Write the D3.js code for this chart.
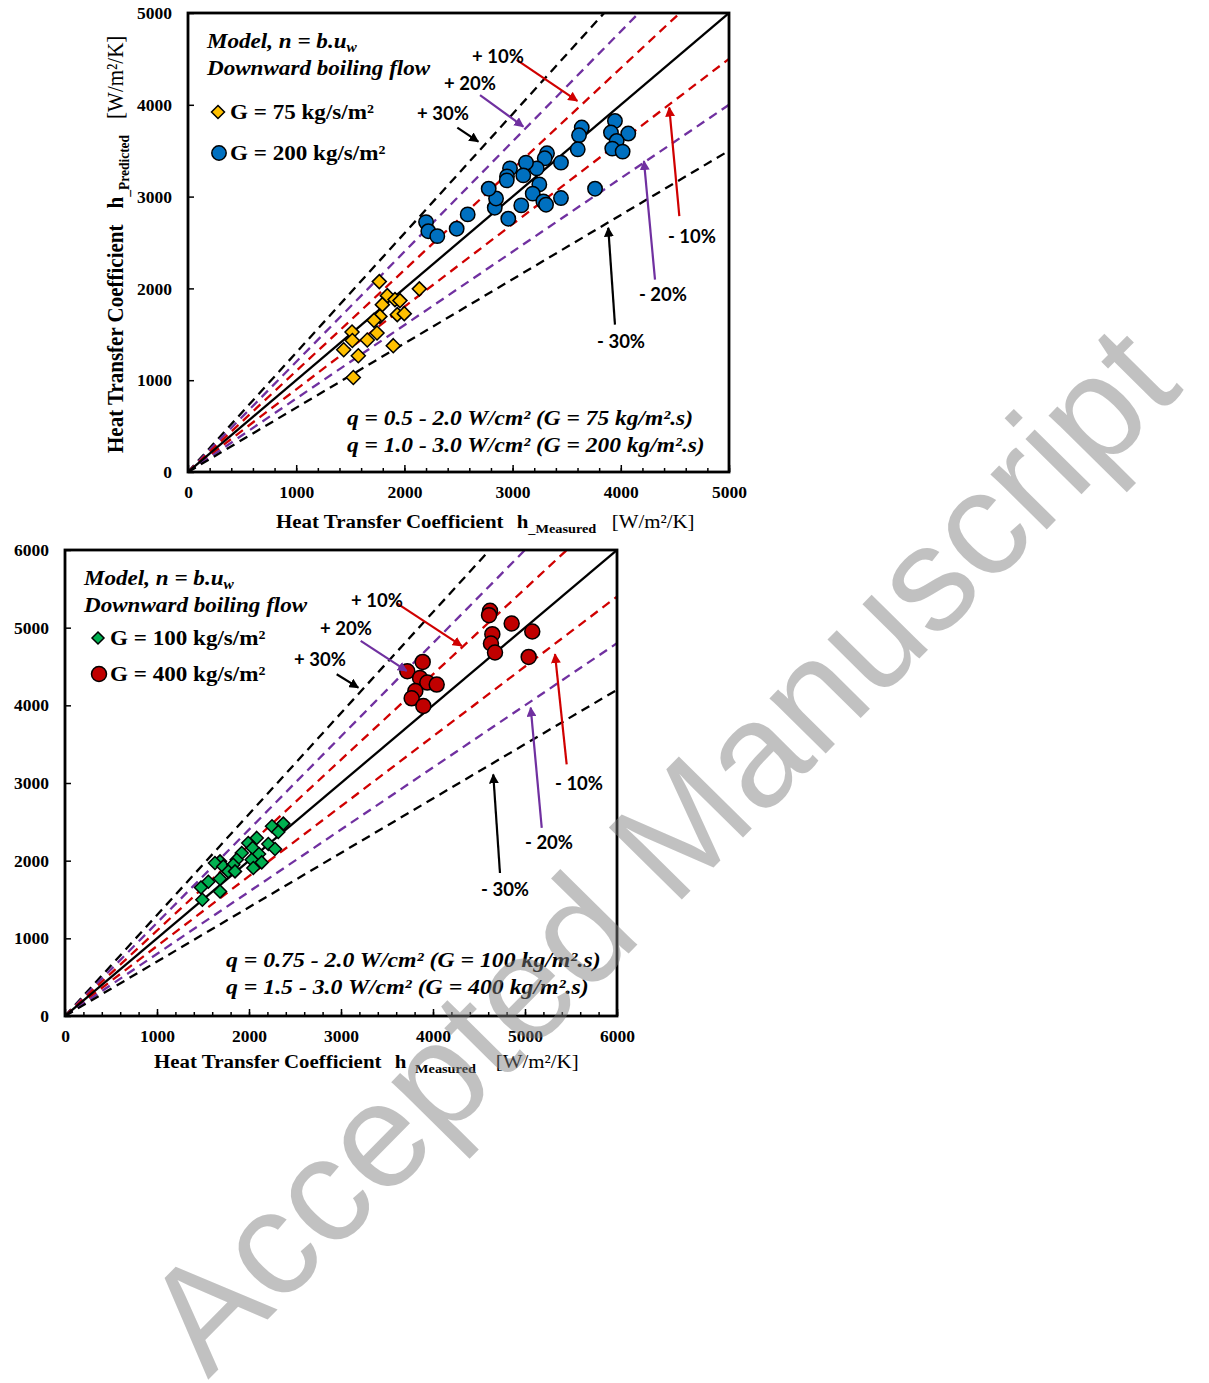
<!DOCTYPE html>
<html><head><meta charset="utf-8">
<script src="https://cdn.jsdelivr.net/npm/d3@7"></script>
<style>body{margin:0;background:#fff}svg{display:block}</style>
</head><body>
<svg id="c" width="1209" height="1383"></svg>
<script>
// ---------------- DATA ----------------
// Top panel: [h_measured, h_predicted] in W/m2/K
const g75 = [[1768,2074],[2138,1995],[1842,1921],[1913,1878],[1959,1867],[1796,1823],[1934,1714],[1999,1725],[1774,1695],[1719,1652],[1516,1525],[1747,1514],[1657,1438],[1519,1433],[1439,1332],[1897,1376],[1574,1266],[1528,1029]];
const g200 = [[3946,3824],[4069,3687],[3909,3698],[3962,3606],[3921,3523],[4017,3490],[3639,3752],[3614,3668],[3602,3515],[3762,3086],[3447,3370],[3447,2984],[3318,3472],[3297,3417],[3223,3308],[3124,3370],[3099,3231],[2976,3308],[2948,3220],[2946,3177],[3247,3133],[3186,3032],[3284,2948],[3309,2912],[3080,2904],[2960,2759],[2835,2879],[2847,2980],[2779,3086],[2585,2806],[2483,2650],[2200,2722],[2221,2623],[2304,2569]];
// Bottom panel
const g100 = [[2373,2477],[2250,2443],[2318,2370],[2084,2293],[1992,2228],[2210,2215],[2040,2164],[2283,2151],[1921,2099],[2109,2086],[1685,1991],[1630,1970],[1866,2013],[2029,2013],[2138,1978],[1721,1926],[1829,1948],[2047,1906],[1775,1862],[1848,1862],[1685,1768],[1558,1729],[1478,1655],[1685,1604],[1493,1497]];
const g400 = [[4620,5217],[4609,5161],[4855,5054],[5079,4951],[4645,4916],[4630,4796],[4674,4680],[5040,4623],[3888,4559],[3721,4439],[3859,4352],[3938,4293],[4040,4267],[3808,4185],[3768,4090],[3895,3991]];

const errorFactors = [1.3, 1.2, 1.1, 0.9, 0.8, 0.7];
const topTicks = [0, 1000, 2000, 3000, 4000, 5000];
const bottomTicks = [0, 1000, 2000, 3000, 4000, 5000, 6000];
// annotation anchors (data units): label centre, arrow start, arrow tip
const topNotes = [
  {lab:"+ 10%", f:1.1, t:[2865,4531], a:[3038,4490], b:[3598,4043]},
  {lab:"+ 20%", f:1.2, t:[2606,4236], a:[2699,4105], b:[3099,3763]},
  {lab:"+ 30%", f:1.3, t:[2357,3908], a:[2489,3752], b:[2683,3599]},
  {lab:"- 10%", f:0.9, t:[4658,2566], a:[4541,2787], b:[4448,3970]},
  {lab:"- 20%", f:0.8, t:[4390,1932], a:[4316,2096], b:[4214,3387]},
  {lab:"- 30%", f:0.7, t:[4002,1419], a:[3946,1605], b:[3884,2660]}
];
const bottomNotes = [
  {lab:"+ 10%", f:1.1, t:[3391,5355], a:[3605,5316], b:[4312,4765]},
  {lab:"+ 20%", f:1.2, t:[3054,4994], a:[3214,4830], b:[3714,4443]},
  {lab:"+ 30%", f:1.3, t:[2772,4594], a:[2953,4400], b:[3188,4228]},
  {lab:"- 10%", f:0.9, t:[5587,2994], a:[5453,3239], b:[5326,4658]},
  {lab:"- 20%", f:0.8, t:[5261,2232], a:[5182,2422], b:[5062,3970]},
  {lab:"- 30%", f:0.7, t:[4783,1626], a:[4728,1841], b:[4655,3110]}
];

// ---------------- STYLE ----------------
const RED = "#D00000", PURPLE = "#7030A0", BLACK = "#000";
const colorOf = f => (f === 1.1 || f === 0.9) ? RED : (f === 1.2 || f === 0.8) ? PURPLE : BLACK;
const SERIF = "'Liberation Serif','Times New Roman',serif";
const SANS = "Lato,'Open Sans',sans-serif";
const SX = 1.1;

const svg = d3.select("#c");
const defs = svg.append("defs");
[["black",BLACK],["red",RED],["purple",PURPLE]].forEach(([n,c]) => {
  defs.append("marker").attr("id","ah-"+n).attr("viewBox","0 0 10 10")
    .attr("refX",9).attr("refY",5).attr("markerWidth",4.5).attr("markerHeight",4.5)
    .attr("orient","auto").append("path").attr("d","M0,0L10,5L0,10Z").attr("fill",c);
});
const markerOf = f => (f === 1.1 || f === 0.9) ? "url(#ah-red)" : (f === 1.2 || f === 0.8) ? "url(#ah-purple)" : "url(#ah-black)";

function stext(parent, x, y, opts) {
  const g = parent.append("g").attr("transform", `translate(${x},${y}) scale(${opts.sx || SX},1)`);
  return g.append("text").attr("x",0).attr("y",0)
    .attr("font-family", opts.family || SERIF)
    .attr("font-size", opts.size || 20)
    .attr("font-weight", opts.weight || "bold")
    .attr("font-style", opts.style || "normal")
    .attr("text-anchor", opts.anchor || "start")
    .attr("fill", opts.fill || "#000");
}

function diamondPath(r) { return `M0,${-r}L${r},0L0,${r}L${-r},0Z`; }

function drawPanel(p) {
  const x = d3.scaleLinear([0, p.max], [p.left, p.right]);
  const y = d3.scaleLinear([0, p.max], [p.bottom, p.top]);
  const g = svg.append("g");
  const cid = "clip" + p.id;
  defs.append("clipPath").attr("id", cid).append("rect")
    .attr("x", p.left).attr("y", p.top).attr("width", p.right - p.left).attr("height", p.bottom - p.top);

  const lines = g.append("g").attr("clip-path", `url(#${cid})`);
  errorFactors.forEach(f => {
    lines.append("line")
      .attr("x1", x(0)).attr("y1", y(0)).attr("x2", x(p.max)).attr("y2", y(f * p.max))
      .attr("stroke", colorOf(f)).attr("stroke-width", 2.3).attr("stroke-dasharray", "9,6");
  });
  lines.append("line").attr("x1", x(0)).attr("y1", y(0)).attr("x2", x(p.max)).attr("y2", y(p.max))
    .attr("stroke", "#000").attr("stroke-width", 2.3);

  // data
  g.append("g").selectAll("path").data(p.diamonds).join("path")
    .attr("transform", d => `translate(${x(d[0])},${y(d[1])})`)
    .attr("d", diamondPath(p.dr)).attr("fill", p.dColor).attr("stroke", "#000").attr("stroke-width", 1.5);
  g.append("g").selectAll("circle").data(p.circles).join("circle")
    .attr("cx", d => x(d[0])).attr("cy", d => y(d[1])).attr("r", p.cr)
    .attr("fill", p.cColor).attr("stroke", "#000").attr("stroke-width", 1.5);

  // axes
  const minor = d3.range(0, p.max + 1, 200);
  g.append("g").attr("transform", `translate(0,${p.bottom})`)
    .call(d3.axisBottom(x).tickValues(minor).tickSize(-4).tickFormat(""))
    .call(a => a.select(".domain").remove())
    .call(a => a.selectAll("line").attr("stroke-width", 1.5));
  g.append("g").attr("transform", `translate(0,${p.bottom})`)
    .call(d3.axisBottom(x).tickValues(p.ticks).tickSize(-7).tickPadding(14).tickFormat(d3.format("d")))
    .call(a => a.select(".domain").remove())
    .call(a => a.selectAll("line").attr("stroke-width", 1.5))
    .call(a => a.selectAll("text").attr("font-family", SERIF).attr("font-weight", "bold").attr("font-size", 17.5));
  g.append("g").attr("transform", `translate(${p.left},0)`)
    .call(d3.axisLeft(y).tickValues(p.ticks).tickSize(-6).tickPadding(16).tickFormat(d3.format("d")))
    .call(a => a.select(".domain").remove())
    .call(a => a.selectAll("line").attr("stroke-width", 1.5))
    .call(a => a.selectAll("text").attr("font-family", SERIF).attr("font-weight", "bold").attr("font-size", 17.5));

  // frame
  g.append("rect").attr("x", p.left).attr("y", p.top).attr("width", p.right - p.left).attr("height", p.bottom - p.top)
    .attr("fill", "none").attr("stroke", "#000").attr("stroke-width", 2.8);

  // annotations
  p.notes.forEach(n => {
    g.append("line").attr("x1", x(n.a[0])).attr("y1", y(n.a[1])).attr("x2", x(n.b[0])).attr("y2", y(n.b[1]))
      .attr("stroke", colorOf(n.f)).attr("stroke-width", 2.2).attr("marker-end", markerOf(n.f));
    g.append("text").attr("x", x(n.t[0])).attr("y", y(n.t[1]) + 6.5)
      .attr("text-anchor", "middle").attr("font-family", SANS).attr("font-weight", "bold")
      .attr("font-size", 18.5).text(n.lab);
  });

  // header texts
  const t1 = stext(g, p.left + p.hx, p.top + p.hy, {size: 21, style: "italic"});
  t1.append("tspan").text("Model, n = b.u");
  t1.append("tspan").attr("font-size", 14).attr("dy", 4).text("w");
  stext(g, p.left + p.hx, p.top + p.hy + 27, {size: 21, style: "italic"}).text("Downward boiling flow");

  // legend
  g.append("path").attr("transform", `translate(${p.left + p.lx},${p.top + p.ly})`)
    .attr("d", diamondPath(p.dr - 0.5)).attr("fill", p.dColor).attr("stroke", "#000").attr("stroke-width", 1.5);
  stext(g, p.left + p.lx + 12, p.top + p.ly + 7, {size: 21}).text(p.dLabel);
  g.append("circle").attr("cx", p.left + p.lx + 1).attr("cy", p.top + p.ly + 36 + p.lgap).attr("r", p.cr)
    .attr("fill", p.cColor).attr("stroke", "#000").attr("stroke-width", 1.5);
  stext(g, p.left + p.lx + 12, p.top + p.ly + 43 + p.lgap, {size: 21}).text(p.cLabel);

  // q texts
  p.qLines.forEach((q, i) => {
    stext(g, p.qx, p.qy + i * 27, {size: p.qSize, style: "italic"}).text(q);
  });

  // x title
  const xt = stext(g, p.xtx, p.xty, {size: 19});
  xt.append("tspan").text("Heat Transfer Coefficient");
  xt.append("tspan").attr("dx", 12).text("h");
  xt.append("tspan").attr("dy", 5).attr("dx", p.subDx).attr("font-size", 13).text(p.xSub);
  xt.append("tspan").attr("dy", -5).attr("dx", p.unitDx).attr("font-weight", "normal").text("[W/m\u00B2/K]");

  if (p.yTitle) {
    const yt = g.append("g").attr("transform", `translate(${p.ytx},${p.yty}) rotate(-90) scale(1,${SX})`)
      .append("text").attr("font-family", SERIF).attr("font-weight", "bold").attr("font-size", 21);
    yt.append("tspan").text("Heat Transfer Coefficient");
    yt.append("tspan").attr("dx", 16).text("h");
    yt.append("tspan").attr("dy", 5).attr("font-size", 13.5).text("_Predicted");
    yt.append("tspan").attr("dy", -5).attr("dx", 16).attr("font-weight", "normal").text("[W/m\u00B2/K]");
  }
}

drawPanel({
  id: "top", max: 5000, left: 188, right: 729, top: 13, bottom: 472, ticks: topTicks,
  diamonds: g75, circles: g200, dColor: "#FFC000", cColor: "#0070C0", dr: 7, cr: 7.2,
  dLabel: "G = 75 kg/s/m\u00B2", cLabel: "G = 200 kg/s/m\u00B2",
  notes: topNotes, hx: 19, hy: 35, lx: 30, ly: 99, lgap: 5,
  qx: 347, qy: 425, qSize: 21.3,
  qLines: ["q = 0.5 - 2.0 W/cm\u00B2 (G = 75 kg/m\u00B2.s)", "q = 1.0 - 3.0 W/cm\u00B2 (G = 200 kg/m\u00B2.s)"],
  xtx: 276, xty: 528, xSub: "_Measured", subDx: 0, unitDx: 14,
  yTitle: true, ytx: 123, yty: 453
});
drawPanel({
  id: "bot", max: 6000, left: 65, right: 617, top: 550, bottom: 1016, ticks: bottomTicks,
  diamonds: g100, circles: g400, dColor: "#00B050", cColor: "#C00000", dr: 6.5, cr: 7.5,
  dLabel: "G = 100 kg/s/m\u00B2", cLabel: "G = 400 kg/s/m\u00B2",
  notes: bottomNotes, hx: 19, hy: 35, lx: 33, ly: 88, lgap: 0,
  qx: 226, qy: 967, qSize: 21.6,
  qLines: ["q = 0.75 - 2.0 W/cm\u00B2 (G = 100 kg/m\u00B2.s)", "q = 1.5 - 3.0 W/cm\u00B2 (G = 400 kg/m\u00B2.s)"],
  xtx: 154, xty: 1068, xSub: "Measured", subDx: 8, unitDx: 18,
  yTitle: false
});

// watermark
svg.append("text").attr("transform", "translate(208,1380) rotate(-45.4)")
  .attr("font-family", "'Liberation Sans',Arial,sans-serif").attr("font-size", 149)
  .attr("fill", "#808080").attr("opacity", 0.48).text("Accepted Manuscript");
</script>
</body></html>
